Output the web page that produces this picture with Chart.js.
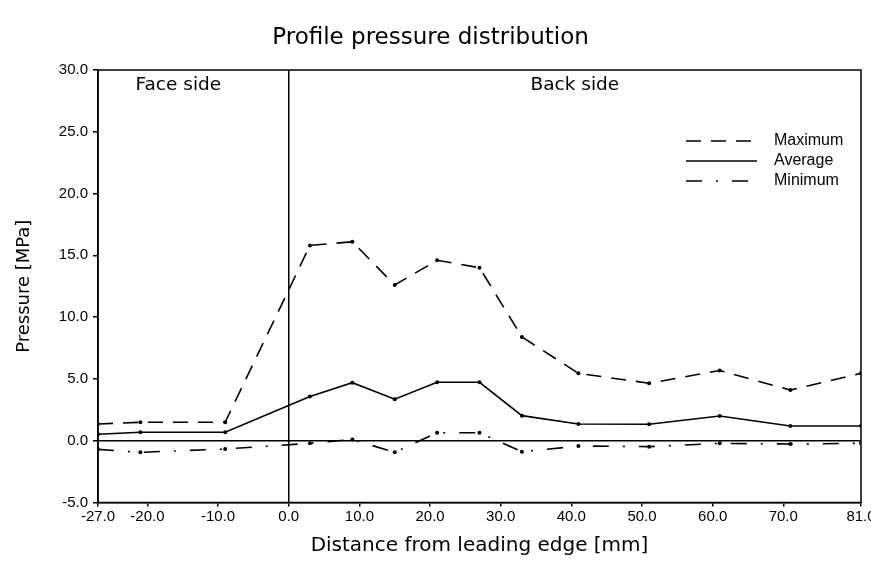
<!DOCTYPE html>
<html>
<head>
<meta charset="utf-8">
<script src="https://cdn.jsdelivr.net/npm/chart.js@4.4.1/dist/chart.umd.min.js"></script>
<style>
  html, body { margin: 0; padding: 0; background: #fff; }
  #wrap { width: 871px; height: 561px; }
</style>
</head>
<body>
<div id="wrap"><canvas id="c" width="871" height="561"></canvas></div>
<script>
// ---- data ----
const positions = [-27, -21, -9, 3, 9, 15, 21, 27, 33, 41, 51, 61, 71, 81];
const maximum   = [1.35, 1.49, 1.49, 15.8, 16.1, 12.6, 14.6, 14.0, 8.4, 5.45, 4.65, 5.68, 4.1, 5.45];
const average   = [0.52, 0.68, 0.68, 3.57, 4.7, 3.36, 4.73, 4.73, 2.03, 1.35, 1.33, 2.0, 1.19, 1.19];
const minimum   = [-0.7, -0.94, -0.67, -0.21, 0.1, -0.94, 0.65, 0.65, -0.89, -0.43, -0.48, -0.21, -0.27, -0.21];
const seriesNames = ['Maximum', 'Average', 'Minimum'];
const xTickValues = [-27, -20, -10, 0, 10, 20, 30, 40, 50, 60, 70, 81];
const yTickValues = [-5, 0, 5, 10, 15, 20, 25, 30];
const regionLabels = ['Face side', 'Back side'];
const titleText = 'Profile pressure distribution';
const xTitle = 'Distance from leading edge [mm]';
const yTitle = 'Pressure [MPa]';

const toPts = arr => positions.map((x, i) => ({ x: x, y: arr[i] }));

const styles = [
  { dash: [15, 10] },
  { dash: [] },
  { dash: [16, 14, 2, 14] }
];

const LABEL_FONT = "'Liberation Sans Narrow', 'Liberation Sans', Arial, sans-serif";
const TEXT_FONT = "'DejaVu Sans', sans-serif";

const framePlugin = {
  id: 'frame',
  afterDatasetsDraw(chart) {
    const { ctx, chartArea: a, scales } = chart;
    ctx.save();
    ctx.strokeStyle = '#000';
    ctx.lineWidth = 1.5;
    ctx.strokeRect(a.left, a.top, a.right - a.left, a.bottom - a.top);
    // region labels
    ctx.fillStyle = '#000';
    ctx.font = '18.5px ' + TEXT_FONT;
    ctx.textAlign = 'center';
    ctx.textBaseline = 'middle';
    const x0 = scales.x.getPixelForValue(0);
    ctx.fillText(regionLabels[0], (a.left + x0) / 2 - 15, a.top + 15);
    ctx.fillText(regionLabels[1], (x0 + a.right) / 2, a.top + 15);
    // legend
    const lx0 = a.right - 175, lx1 = a.right - 104, tx = a.right - 87;
    ctx.font = "16px 'Liberation Sans', Arial, sans-serif";
    ctx.textAlign = 'left';
    seriesNames.forEach((name, i) => {
      const y = a.top + 71 + i * 20;
      ctx.beginPath();
      ctx.setLineDash(styles[i].dash);
      ctx.lineWidth = 1.5;
      ctx.moveTo(lx0, y);
      ctx.lineTo(lx1, y);
      ctx.stroke();
      ctx.setLineDash([]);
      ctx.fillText(name, tx, y);
    });
    ctx.restore();
  }
};

new Chart(document.getElementById('c'), {
  type: 'line',
  data: {
    datasets: [maximum, average, minimum].map((arr, i) => ({
      label: seriesNames[i],
      data: toPts(arr),
      borderColor: '#000',
      backgroundColor: '#000',
      borderWidth: 1.6,
      borderDash: styles[i].dash,
      pointRadius: 2,
      pointBorderWidth: 0,
      pointBackgroundColor: '#000',
      tension: 0,
      fill: false
    }))
  },
  options: {
    responsive: false,
    animation: false,
    devicePixelRatio: 1,
    layout: { padding: { left: 0, right: 10, top: 0, bottom: 0 } },
    plugins: {
      legend: { display: false },
      tooltip: { enabled: false },
      title: {
        display: true,
        text: titleText,
        color: '#000',
        font: { family: TEXT_FONT, size: 23, weight: 'normal', lineHeight: 1.2 },
        padding: { top: 24, bottom: 18.4 }
      }
    },
    scales: {
      x: {
        type: 'linear',
        min: -27,
        max: 81,
        afterBuildTicks: s => { s.ticks = xTickValues.map(v => ({ value: v })); },
        afterFit: s => { s.height = 58.5; s.paddingLeft = 0; s.paddingRight = 0; },
        ticks: {
          color: '#000',
          autoSkip: false,
          maxRotation: 0,
          padding: 1,
          font: { family: LABEL_FONT, size: 15 },
          callback: v => Number(v).toFixed(1)
        },
        grid: {
          color: c => (c.tick && c.tick.value === 0) ? '#000' : 'rgba(0,0,0,0)',
          lineWidth: 1.5,
          tickColor: '#000',
          tickLength: 4,
          drawTicks: true
        },
        border: { display: true, color: '#000', width: 1.5 },
        title: {
          display: true,
          text: xTitle,
          color: '#000',
          font: { family: TEXT_FONT, size: 20, lineHeight: 1.2 },
          padding: { top: 0, bottom: 3 }
        }
      },
      y: {
        type: 'linear',
        min: -5,
        max: 30,
        afterBuildTicks: s => { s.ticks = yTickValues.map(v => ({ value: v })); },
        afterFit: s => { s.width = 98; s.paddingTop = 0; s.paddingBottom = 0; },
        ticks: {
          color: '#000',
          padding: 5,
          font: { family: LABEL_FONT, size: 15 },
          callback: v => Number(v).toFixed(1)
        },
        grid: {
          color: c => (c.tick && c.tick.value === 0) ? '#000' : 'rgba(0,0,0,0)',
          lineWidth: 1.5,
          tickColor: '#000',
          tickLength: 5,
          drawTicks: true
        },
        border: { display: true, color: '#000', width: 1.5 },
        title: {
          display: true,
          text: yTitle,
          color: '#000',
          font: { family: TEXT_FONT, size: 18, lineHeight: 1.2 },
          padding: { top: 14, bottom: 0 }
        }
      }
    }
  },
  plugins: [framePlugin]
});
</script>
</body>
</html>
